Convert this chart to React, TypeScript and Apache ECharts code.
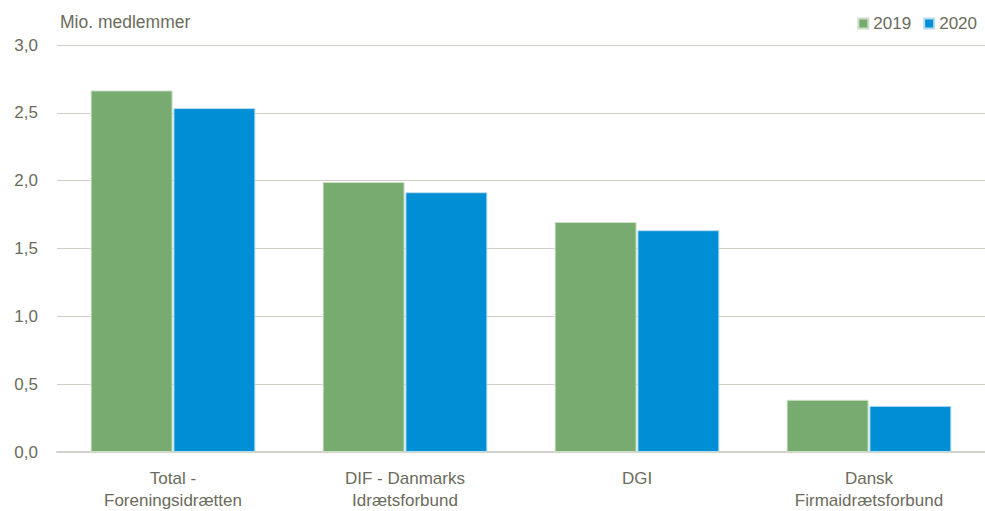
import React, { useEffect, useRef } from "react";
import * as echarts from "echarts";

const categories = [
  "Total -\nForeningsidrætten",
  "DIF - Danmarks\nIdrætsforbund",
  "DGI",
  "Dansk\nFirmaidrætsforbund",
];
const values2019 = [2.665, 1.99, 1.695, 0.385];
const values2020 = [2.535, 1.915, 1.635, 0.34];
const seriesNames = ["2019", "2020"];
const yTitle = "Mio. medlemmer";

const FONT = "'Liberation Sans', Arial, sans-serif";
const TEXT = "#6b6b5c";

export default function App() {
  const ref = useRef<HTMLDivElement>(null);
  useEffect(() => {
    if (!ref.current) return;
    const chart = echarts.init(ref.current, null, { renderer: "svg" });
    chart.setOption({
      animation: false,
      textStyle: { fontFamily: FONT, color: TEXT },
      grid: { left: 57, width: 935, top: 45, height: 408 },
      legend: {
        right: 3,
        top: 10,
        itemWidth: 10,
        itemHeight: 10,
        itemGap: 12,
        icon: "rect",
        textStyle: { fontFamily: FONT, fontSize: 17, color: TEXT },
        data: seriesNames,
      },
      graphic: [
        {
          type: "text",
          left: 60,
          top: 13,
          style: { text: yTitle, font: `17.5px ${FONT}`, fill: TEXT },
        },
      ],
      xAxis: {
        type: "category",
        data: categories,
        axisLine: { lineStyle: { color: "#d3d3cb", width: 2 } },
        axisTick: { show: false },
        axisLabel: {
          fontFamily: FONT,
          fontSize: 17,
          color: TEXT,
          lineHeight: 22,
          margin: 15,
        },
      },
      yAxis: {
        type: "value",
        min: 0,
        max: 3,
        interval: 0.5,
        splitLine: { lineStyle: { color: "#cfcfc7", width: 1 } },
        axisLabel: {
          fontFamily: FONT,
          fontSize: 17,
          color: TEXT,
          margin: 19,
          formatter: (v: number) => v.toFixed(1).replace(".", ","),
        },
      },
      series: [
        {
          name: seriesNames[0],
          type: "bar",
          data: values2019,
          barGap: "1%",
          barCategoryGap: "29%",
          itemStyle: { color: "#77ab70", borderColor: "#cfe0ca", borderWidth: 1 },
        },
        {
          name: seriesNames[1],
          type: "bar",
          data: values2020,
          itemStyle: { color: "#008fd5", borderColor: "#b9dcef", borderWidth: 1 },
        },
      ],
    });
    return () => chart.dispose();
  }, []);
  return <div ref={ref} style={{ width: 985, height: 511, position: "absolute", left: 0, top: 0 }} />;
}
